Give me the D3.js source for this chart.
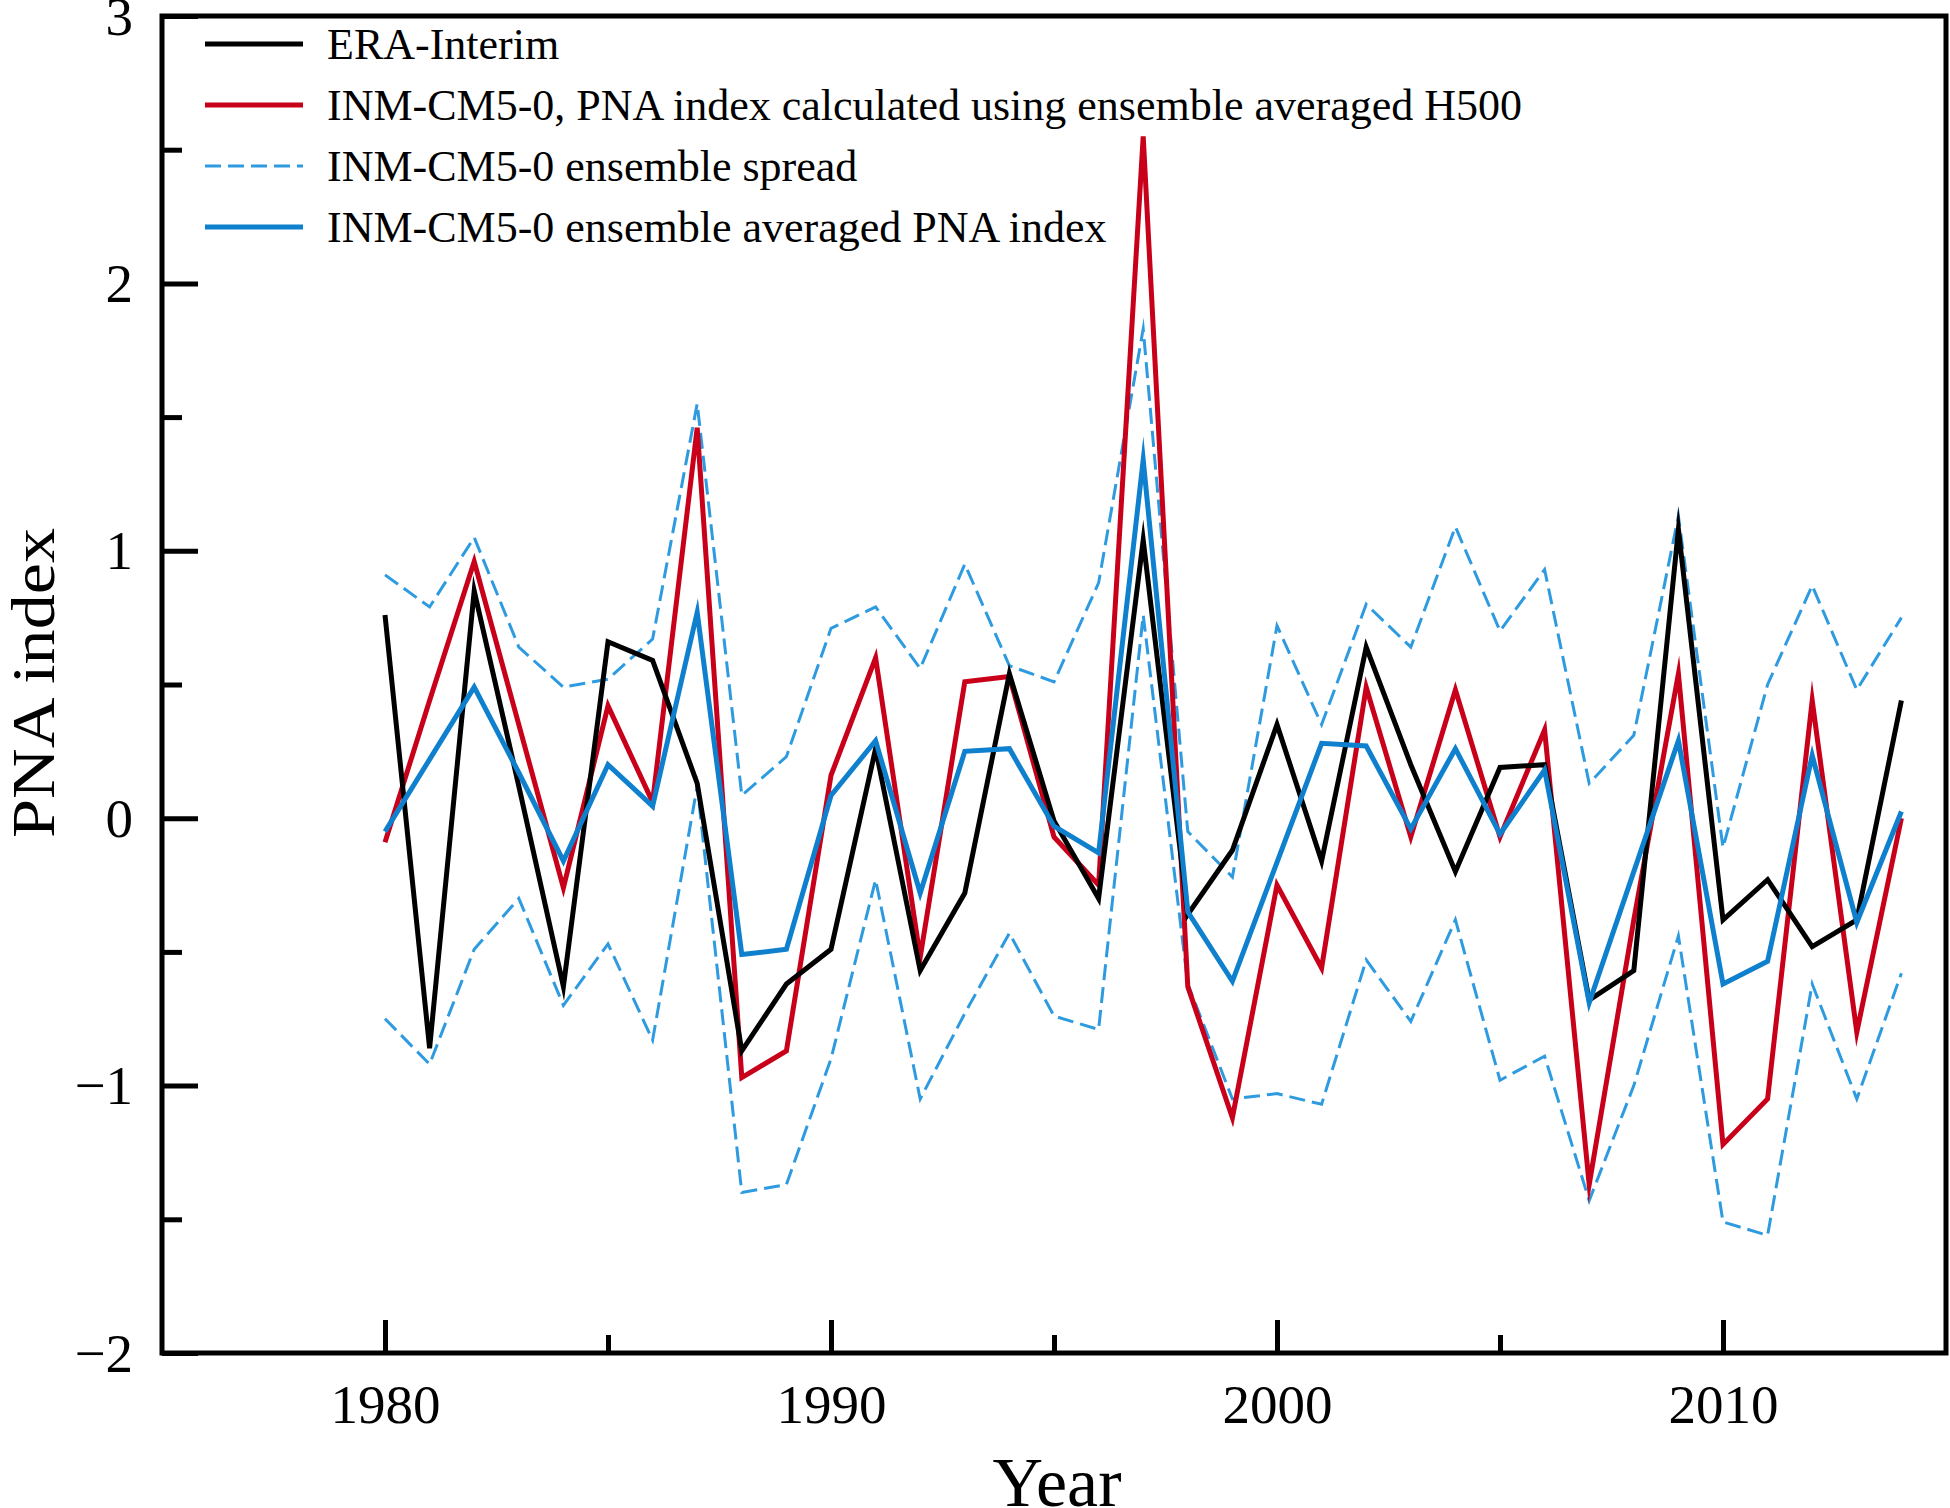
<!DOCTYPE html>
<html>
<head>
<meta charset="utf-8">
<script src="https://cdn.jsdelivr.net/npm/d3@7"></script>
<style>
  html, body { margin: 0; padding: 0; background: #fff; }
  svg { display: block; }
  text { font-family: "Liberation Serif", "Times New Roman", serif; fill: #000; }
</style>
</head>
<body>
<svg id="chart" width="1950" height="1508"></svg>
<script>
// ---- data ----
const years = [1980,1981,1982,1983,1984,1985,1986,1987,1988,1989,
               1990,1991,1992,1993,1994,1995,1996,1997,1998,1999,
               2000,2001,2002,2003,2004,2005,2006,2007,2008,2009,
               2010,2011,2012,2013,2014];
const eraInterim = [0.76,-0.86,0.85,0.12,-0.63,0.66,0.59,0.13,-0.87,-0.62,
                    -0.49,0.26,-0.57,-0.28,0.54,-0.01,-0.30,1.04,-0.36,-0.12,
                    0.35,-0.16,0.64,0.20,-0.20,0.19,0.20,-0.68,-0.57,1.08,
                    -0.38,-0.23,-0.48,-0.38,0.44];
const inmH500 = [-0.09,0.44,0.96,0.35,-0.26,0.42,0.06,1.46,-0.97,-0.87,
                 0.16,0.60,-0.52,0.51,0.53,-0.07,-0.25,2.55,-0.63,-1.12,
                 -0.25,-0.56,0.49,-0.07,0.48,-0.07,0.33,-1.37,-0.38,0.54,
                 -1.22,-1.05,0.44,-0.80,0.00];
const inmEnsMean = [-0.05,0.22,0.49,0.17,-0.16,0.20,0.045,0.77,-0.51,-0.49,
                    0.085,0.29,-0.28,0.25,0.26,-0.03,-0.13,1.34,-0.35,-0.61,
                    -0.165,0.28,0.27,-0.04,0.26,-0.06,0.18,-0.69,-0.20,0.29,
                    -0.62,-0.535,0.235,-0.39,0.025];
const spreadUpper = [0.91,0.79,1.05,0.64,0.49,0.52,0.67,1.55,0.085,0.23,
                     0.71,0.79,0.56,0.95,0.57,0.51,0.88,1.83,-0.05,-0.22,
                     0.72,0.35,0.80,0.64,1.09,0.70,0.93,0.13,0.31,1.13,
                     -0.11,0.50,0.87,0.48,0.75];
const spreadLower = [-0.75,-0.92,-0.49,-0.30,-0.70,-0.47,-0.83,0.12,-1.40,-1.37,
                     -0.90,-0.23,-1.05,-0.73,-0.43,-0.74,-0.79,0.76,-0.62,-1.05,
                     -1.03,-1.07,-0.53,-0.76,-0.38,-0.98,-0.89,-1.43,-1.00,-0.44,
                     -1.51,-1.56,-0.62,-1.05,-0.58];
const xMajorTicks = [1980,1990,2000,2010];
const xMinorTicks = [1985,1995,2005];
const yMajorTicks = [-2,-1,0,1,2,3];
const yMinorTicks = [-1.5,-0.5,0.5,1.5,2.5];
const legendLabels = ["ERA-Interim",
  "INM-CM5-0, PNA index calculated using ensemble averaged H500",
  "INM-CM5-0 ensemble spread",
  "INM-CM5-0 ensemble averaged PNA index"];

// ---- layout ----
const L = 162, R = 1946, T = 16, B = 1353;
const svg = d3.select("#chart");
const x = d3.scaleLinear().domain([1975, 2015]).range([L, R]);
const y = d3.scaleLinear().domain([-2, 3]).range([B, T]);

const fmtY = d => (d < 0 ? "\u2212" + Math.abs(d) : String(d));

// axes (ticks point inward)
const gx = svg.append("g").attr("transform", `translate(0,${B})`)
  .call(d3.axisBottom(x).tickValues(xMajorTicks).tickSize(-33).tickPadding(0).tickFormat(d3.format("d")));
const gxm = svg.append("g").attr("transform", `translate(0,${B})`)
  .call(d3.axisBottom(x).tickValues(xMinorTicks).tickSize(-18).tickFormat(""));
const gy = svg.append("g").attr("transform", `translate(${L},0)`)
  .call(d3.axisLeft(y).tickValues(yMajorTicks).tickSize(-36).tickPadding(29).tickFormat(fmtY));
const gym = svg.append("g").attr("transform", `translate(${L},0)`)
  .call(d3.axisLeft(y).tickValues(yMinorTicks).tickSize(-20).tickFormat(""));

[gx, gxm, gy, gym].forEach(g => {
  g.select(".domain").remove();
  g.selectAll(".tick line").attr("stroke", "#000").attr("stroke-width", 5);
});
gx.selectAll(".tick text").attr("y", 70).attr("dy", 0)
  .style("font-size", "55px").style("font-family", "Liberation Serif");
gy.selectAll(".tick text").attr("dy", "0.33em")
  .style("font-size", "55px").style("font-family", "Liberation Serif");

// frame
svg.append("rect").attr("x", L).attr("y", T).attr("width", R - L).attr("height", B - T)
  .attr("fill", "none").attr("stroke", "#000").attr("stroke-width", 5);

// series
const line = d3.line().x((d, i) => x(years[i])).y(d => y(d));
const series = [
  {data: spreadUpper, color: "#2e9be0", w: 3, dash: "16,7"},
  {data: spreadLower, color: "#2e9be0", w: 3, dash: "16,7"},
  {data: inmH500, color: "#c8001a", w: 5, dash: null},
  {data: eraInterim, color: "#000000", w: 5, dash: null},
  {data: inmEnsMean, color: "#0f80cd", w: 5, dash: null}
];
series.forEach(s => {
  svg.append("path").datum(s.data).attr("d", line)
    .attr("fill", "none").attr("stroke", s.color).attr("stroke-width", s.w)
    .attr("stroke-linejoin", "miter").attr("stroke-miterlimit", 10)
    .attr("stroke-dasharray", s.dash);
});

// legend
const legendStyles = [
  {color: "#000000", w: 5, dash: null},
  {color: "#c8001a", w: 5, dash: null},
  {color: "#2e9be0", w: 3, dash: "16,7"},
  {color: "#0f80cd", w: 5, dash: null}
];
const legendRowY = [44, 105, 166, 227];
legendLabels.forEach((lab, i) => {
  const ly = legendRowY[i];
  svg.append("line").attr("x1", 205).attr("x2", 303).attr("y1", ly).attr("y2", ly)
    .attr("stroke", legendStyles[i].color).attr("stroke-width", legendStyles[i].w)
    .attr("stroke-dasharray", legendStyles[i].dash);
  svg.append("text").attr("x", 327).attr("y", ly + 15)
    .style("font-size", "44px").style("font-family", "Liberation Serif").text(lab);
});

// axis titles
svg.append("text").attr("x", (L + R) / 2 + 3).attr("y", 1506)
  .attr("text-anchor", "middle").style("font-size", "70px").text("Year");
svg.append("text").attr("transform", "translate(54,683) rotate(-90)")
  .attr("text-anchor", "middle").style("font-size", "62px")
  .attr("textLength", 310).attr("lengthAdjust", "spacingAndGlyphs")
  .text("PNA index");
</script>
</body>
</html>
